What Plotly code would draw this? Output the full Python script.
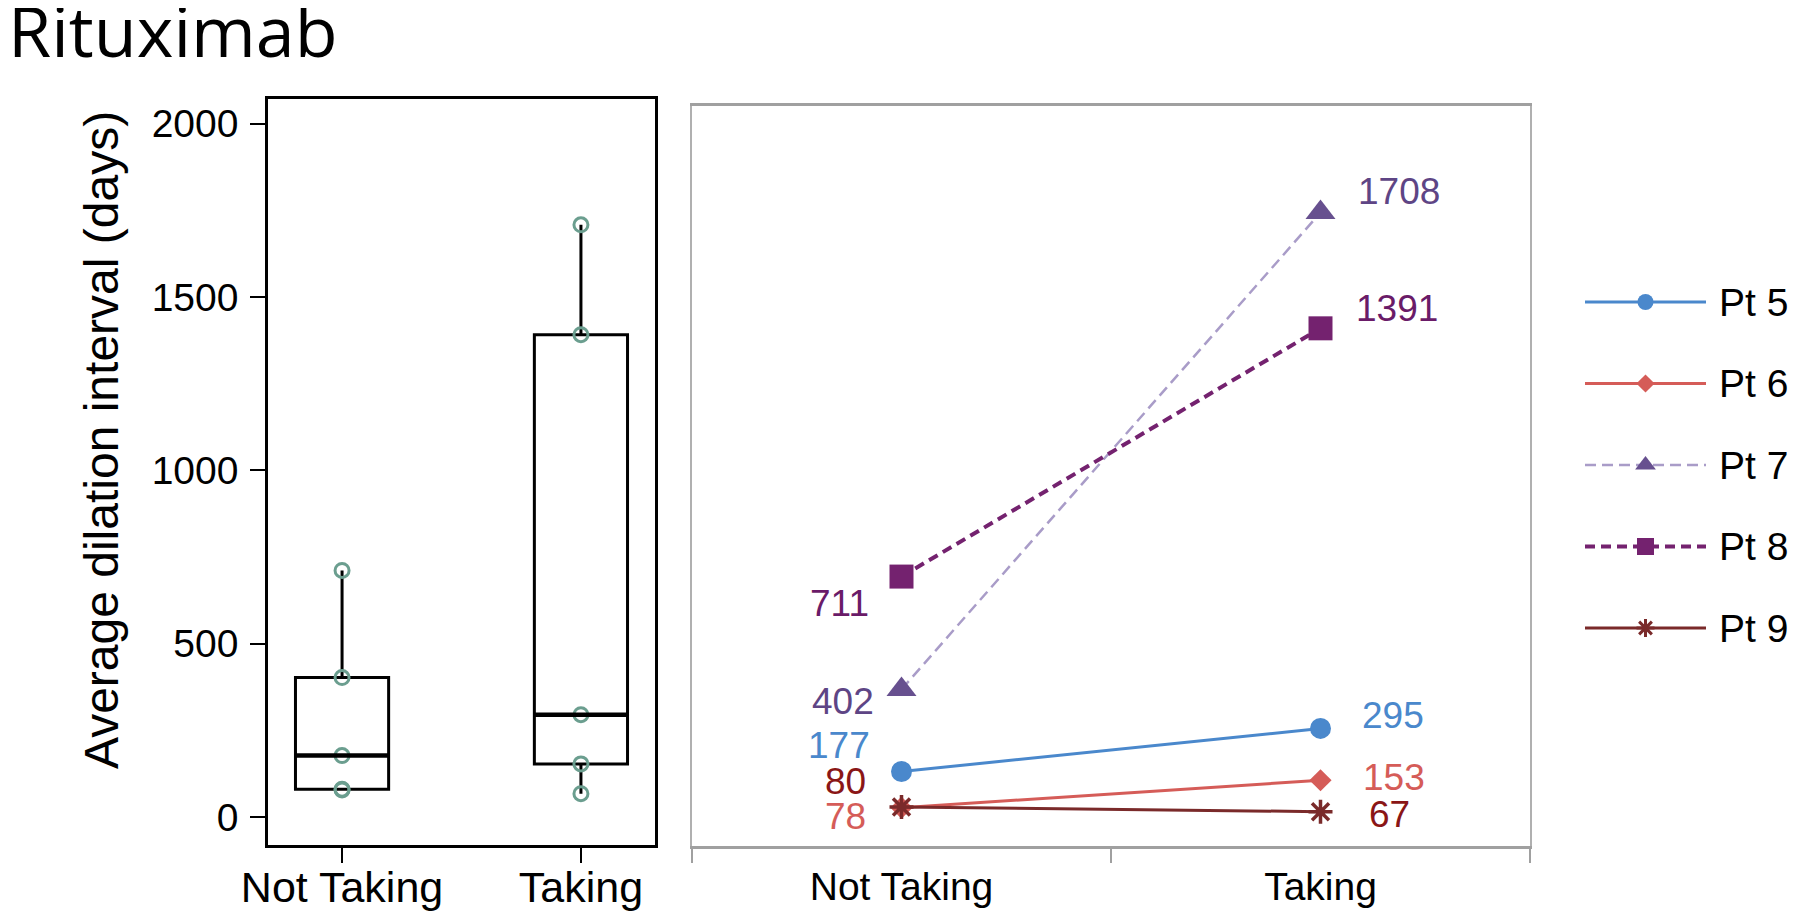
import numpy as np
import plotly.graph_objects as go

# ---------------- data ----------------
title_text = "Rituximab"
categories = ["Not Taking", "Taking"]
patients = ["Pt 5", "Pt 6", "Pt 7", "Pt 8", "Pt 9"]
not_taking = [177, 78, 402, 711, 80]
taking = [295, 153, 1708, 1391, 67]
y_ticks = [0, 500, 1000, 1500, 2000]
y_title = "Average dilation interval (days)"

# ---------------- styles ----------------
OFF = 8                      # default page margin of the html body
W, H = 1800 - OFF, 919 - OFF
line_colors = ["#4a88cc", "#d55c58", "#a99cc8", "#74226f", "#7a2a2a"]
marker_colors = ["#4a88cc", "#d55c58", "#67508f", "#74226f", "#7a2a2a"]
text_colors = ["#4a88cc", "#d55c58", "#5e4585", "#6a1b68", "#8a1616"]
symbols = ["circle", "diamond", "triangle-up", "square", "asterisk-open"]
marker_sizes = [21, 17, 26, 24, 20]
legend_marker_sizes = [16, 14, 18, 17, 15]
line_widths = [3, 3, 2.5, 4, 3]
dashes = ["solid", "solid", "11px,6px", "10px,6px", "solid"]
# label offsets (px) for Not Taking / Taking labels
nt_shift = [(-30, 26), (-34, -9), (-26, -12), (-31, -27), (-34, 25)]
t_shift = [(39, 13), (40, 3), (35, 21), (33, 20), (46, -3)]
box_point_color = "#6b9e8f"
FONT = "Liberation Sans, Arial, sans-serif"


def px_x(p):
    return (p - OFF) / W


def px_y(p):
    return 1 - (p - OFF) / H


fig = go.Figure()

# ---------------- left panel: box plot ----------------
box_x = [categories[0]] * len(not_taking) + [categories[1]] * len(taking)
box_y = list(not_taking) + list(taking)
fig.add_trace(go.Box(
    x=box_x, y=box_y, xaxis="x", yaxis="y",
    boxpoints="all", jitter=0, pointpos=0, width=0.39, whiskerwidth=0,
    quartilemethod="inclusive",
    line=dict(color="black", width=3), fillcolor="rgba(0,0,0,0)",
    marker=dict(symbol="circle-open", size=14, color=box_point_color,
                line=dict(width=3, color=box_point_color)),
    showlegend=False, hoverinfo="y",
))

shapes = []
for i, vals in enumerate([not_taking, taking]):
    med = float(np.median(vals))
    shapes.append(dict(type="line", xref="x", yref="y",
                       x0=i - 0.195, x1=i + 0.195, y0=med, y1=med,
                       line=dict(color="black", width=4.5)))

# ---------------- right panel: paired lines ----------------
annotations = []
for k, name in enumerate(patients):
    fig.add_trace(go.Scatter(
        x=categories, y=[not_taking[k], taking[k]], xaxis="x2", yaxis="y2",
        mode="lines+markers", name=name, showlegend=False,
        line=dict(color=line_colors[k], width=line_widths[k], dash=dashes[k]),
        marker=dict(symbol=symbols[k], size=marker_sizes[k], color=marker_colors[k],
                    line=dict(width=3.5 if symbols[k] == "asterisk-open" else 0,
                              color=marker_colors[k])),
    ))
    annotations.append(dict(
        xref="x2", yref="y2", x=categories[0], y=not_taking[k],
        text=str(not_taking[k]), showarrow=False, xanchor="right", yanchor="middle",
        xshift=nt_shift[k][0], yshift=nt_shift[k][1],
        font=dict(family=FONT, size=37, color=text_colors[k])))
    annotations.append(dict(
        xref="x2", yref="y2", x=categories[1], y=taking[k],
        text=str(taking[k]), showarrow=False, xanchor="left", yanchor="middle",
        xshift=t_shift[k][0], yshift=t_shift[k][1],
        font=dict(family=FONT, size=37, color=text_colors[k])))

# ---------------- custom legend ----------------
for k, name in enumerate(patients):
    fig.add_trace(go.Scatter(
        x=[0, 1], y=[k, k], xaxis="x3", yaxis="y3", mode="lines",
        line=dict(color=line_colors[k], width=line_widths[k], dash=dashes[k]),
        showlegend=False, hoverinfo="skip"))
    fig.add_trace(go.Scatter(
        x=[0.5], y=[k], xaxis="x3", yaxis="y3", mode="markers",
        marker=dict(symbol=symbols[k], size=legend_marker_sizes[k], color=marker_colors[k],
                    line=dict(width=3 if symbols[k] == "asterisk-open" else 0,
                              color=marker_colors[k])),
        showlegend=False, hoverinfo="skip"))
    annotations.append(dict(
        xref="x3", yref="y3", x=1, y=k, text=name, showarrow=False,
        xanchor="left", yanchor="middle", xshift=11,
        font=dict(family=FONT, size=39, color="black")))

# title
annotations.append(dict(
    xref="paper", yref="paper", x=px_x(6), y=px_y(30), text=title_text,
    showarrow=False, xanchor="left", yanchor="middle",
    font=dict(family="Open Sans, sans-serif", size=70, color="black")))

# y-axis title (as rotated annotation)
annotations.append(dict(
    xref="paper", yref="paper", x=px_x(101), y=px_y(440), text=y_title,
    showarrow=False, xanchor="center", yanchor="middle", textangle=-90,
    font=dict(family=FONT, size=48, color="black")))

fig.update_layout(
    width=W, height=H,
    margin=dict(l=0, r=0, t=0, b=0, autoexpand=False),
    paper_bgcolor="white", plot_bgcolor="white",
    showlegend=False,
    xaxis=dict(domain=[px_x(268), px_x(655)], type="category",
               categoryorder="array", categoryarray=categories,
               range=[-0.31, 1.31], showline=True, mirror=True,
               linecolor="black", linewidth=2.5, ticks="outside", ticklen=15,
               tickwidth=2, tickcolor="black", showgrid=False, zeroline=False,
               ticklabelstandoff=-12, automargin=False,
               tickfont=dict(family=FONT, size=43, color="black"), anchor="y"),
    yaxis=dict(domain=[px_y(845), px_y(99)], range=[-81, 2071],
               tickvals=y_ticks, ticktext=[str(v) for v in y_ticks],
               showline=True, mirror=True, linecolor="black", linewidth=2.5,
               ticks="outside", ticklen=15, tickwidth=2, tickcolor="black",
               showgrid=False, zeroline=False, automargin=False,
               ticklabelstandoff=4,
               tickfont=dict(family=FONT, size=39, color="black"),
               anchor="x"),
    xaxis2=dict(domain=[px_x(692), px_x(1530)], type="category",
                categoryorder="array", categoryarray=categories,
                range=[-0.5, 1.5], showline=True, mirror=True,
                linecolor="#a0a0a0", linewidth=2.5, ticks="outside",
                tickson="boundaries", ticklen=14, tickwidth=2, tickcolor="#a0a0a0",
                showgrid=False, zeroline=False, automargin=False,
                ticklabelstandoff=4,
                tickfont=dict(family=FONT, size=39, color="black"), anchor="y2"),
    yaxis2=dict(domain=[px_y(846), px_y(106)], range=[-27, 2000],
                showline=True, mirror=True, linecolor="#b0b0b0", linewidth=1.5,
                ticks="", showticklabels=False, showgrid=False, zeroline=False,
                automargin=False, anchor="x2"),
    xaxis3=dict(domain=[px_x(1585), px_x(1706)], range=[0, 1], visible=False,
                automargin=False, anchor="y3"),
    yaxis3=dict(domain=[px_y(680), px_y(250)], range=[4.638, -0.638],
                visible=False, automargin=False, anchor="x3"),
    shapes=shapes,
    annotations=annotations,
)

fig.write_html("out.html")
